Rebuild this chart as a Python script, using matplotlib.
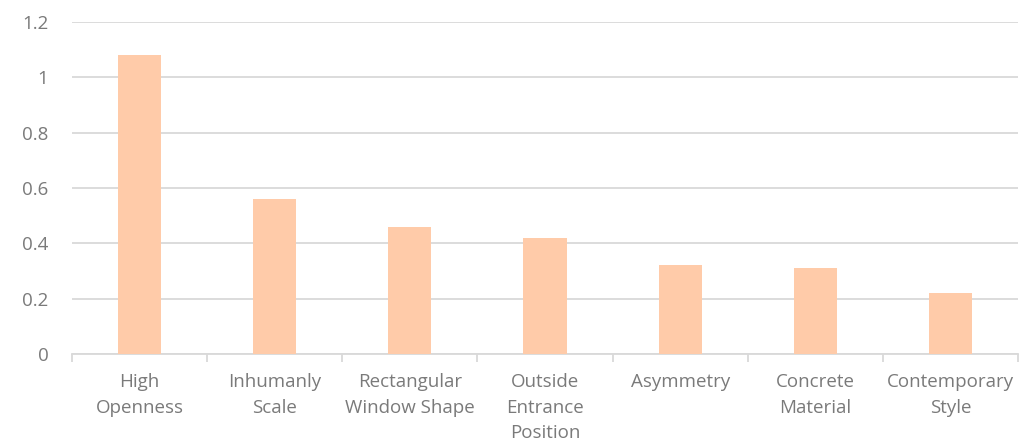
import matplotlib
matplotlib.use("Agg")
import matplotlib.pyplot as plt
from matplotlib.ticker import FixedLocator

categories = ["High\nOpenness", "Inhumanly\nScale", "Rectangular\nWindow Shape",
              "Outside\nEntrance\nPosition", "Asymmetry", "Concrete\nMaterial",
              "Contemporary\nStyle"]
values = [1.08, 0.56, 0.46, 0.42, 0.32, 0.31, 0.22]
yticks = [0, 0.2, 0.4, 0.6, 0.8, 1.0, 1.2]
ytick_labels = ["0", "0.2", "0.4", "0.6", "0.8", "1", "1.2"]

plt.rcParams['font.family'] = ['Open Sans', 'DejaVu Sans']
text_color = "#7A7A7A"
grid_color = "#D9D9D9"

fig = plt.figure(figsize=(10.24, 4.43), dpi=100)
ax = fig.add_axes([72/1024, 1-354/443, (1018-72)/1024, (354-22)/443])

x = list(range(len(categories)))
ax.bar(x, values, width=0.32, color="#FFCBA9", zorder=3)

ax.set_xlim(-0.5, len(categories) - 0.5)
ax.set_ylim(0, 1.2)
ax.set_yticks(yticks)
ax.set_yticklabels(ytick_labels)
ax.yaxis.grid(True, color=grid_color, linewidth=1.3, zorder=0)
ax.set_axisbelow(True)

ax.set_xticks(x)
ax.set_xticklabels(categories, linespacing=1.56)
ax.xaxis.set_minor_locator(FixedLocator([i - 0.5 for i in range(len(categories) + 1)]))
ax.tick_params(axis='x', which='major', length=0, pad=13.5, labelsize=13.5, labelcolor=text_color)
ax.tick_params(axis='x', which='minor', length=6, width=1.3, color=grid_color, direction='out')
ax.tick_params(axis='y', length=0, pad=17, labelsize=13.5, labelcolor=text_color)

for s in ["top", "right", "left"]:
    ax.spines[s].set_visible(False)
ax.spines["bottom"].set_color(grid_color)
ax.spines["bottom"].set_linewidth(1.3)

fig.savefig("out.png", dpi=100)
